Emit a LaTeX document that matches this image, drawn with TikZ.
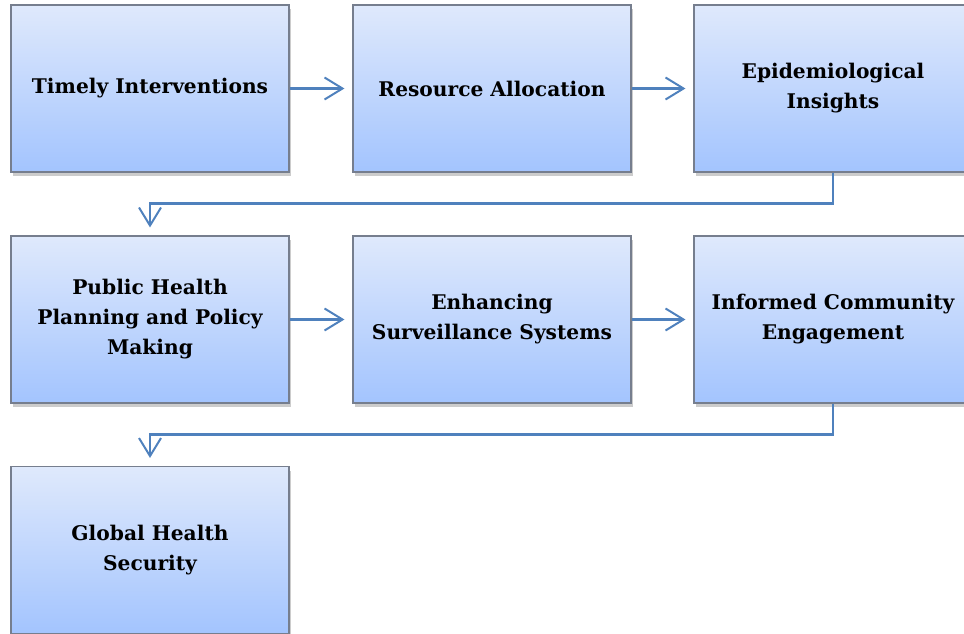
\documentclass[tikz,border=0pt]{standalone}
\usepackage{fontspec}
\setmainfont{DejaVu Serif}
\usetikzlibrary{arrows.meta,shadows,calc}
\definecolor{boxtop}{RGB}{223,233,252}
\definecolor{boxbot}{RGB}{163,196,254}
\definecolor{boxline}{RGB}{118,126,142}
\definecolor{arrcol}{RGB}{79,129,189}
\tikzset{
  flowbox/.style={rectangle, draw=boxline, line width=1.1pt, top color=boxtop, bottom color=boxbot,
    minimum width=278pt, minimum height=167pt, inner sep=0pt, align=center,
    font=\fontsize{20.2}{30}\selectfont\bfseries,
    drop shadow={opacity=0.4, shadow xshift=2pt, shadow yshift=-4pt}},
  arr/.style={draw=arrcol, line width=2.2pt, shorten >=8pt,
    -{Straight Barb[length=18pt,width=22pt,line width=2pt]}}
}
\begin{document}
\begin{tikzpicture}[x=1pt,y=-1pt]
\useasboundingbox (0,0) rectangle (964,634);
\node[flowbox] (b1) at (150,88.5) {Timely Interventions};
\node[flowbox] (b2) at (492,88.5) {Resource Allocation};
\node[flowbox] (b3) at (833,88.5) {Epidemiological\\Insights};
\node[flowbox] (b4) at (150,319.5) {Public Health\\Planning and Policy\\Making};
\node[flowbox] (b5) at (492,319.5) {Enhancing\\Surveillance Systems};
\node[flowbox] (b6) at (833,319.5) {Informed Community\\Engagement};
\node[flowbox] (b7) at (150,550) {Global Health\\Security};
\draw[arr] (b1) -- (b2);
\draw[arr] (b2) -- (b3);
\draw[arr] (b3.south) -- ++(0,31) -| (b4.north);
\draw[arr] (b4) -- (b5);
\draw[arr] (b5) -- (b6);
\draw[arr] (b6.south) -- ++(0,31) -| (b7.north);
\end{tikzpicture}
\end{document}
